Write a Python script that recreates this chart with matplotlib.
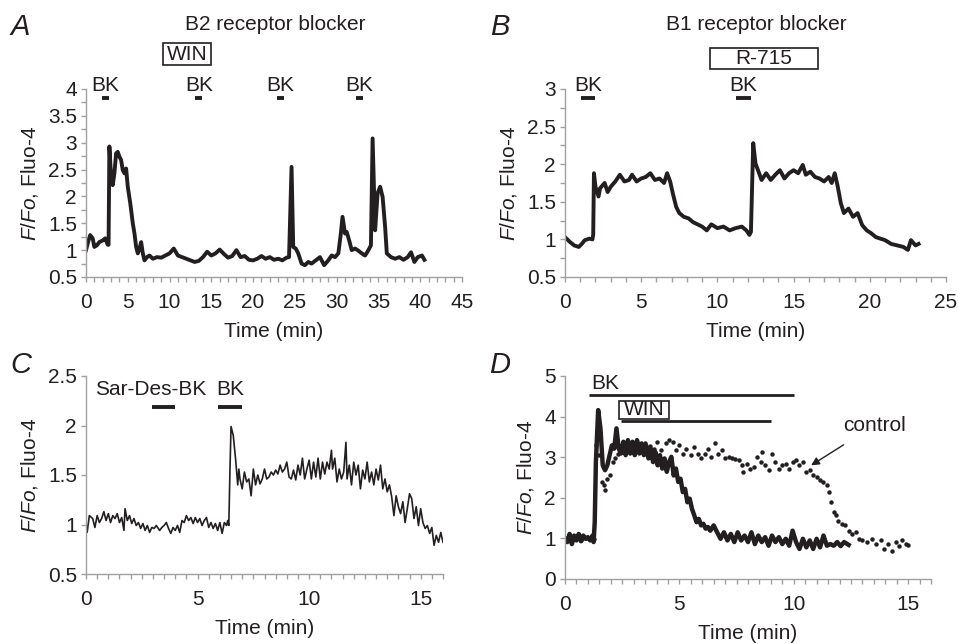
import matplotlib
matplotlib.use("Agg")
import matplotlib.pyplot as plt
from matplotlib.patches import Rectangle
from matplotlib.ticker import MultipleLocator

plt.rcParams["font.family"] = ["Liberation Sans", "DejaVu Sans"]
plt.rcParams["mathtext.fontset"] = "custom"
plt.rcParams["mathtext.it"] = "Liberation Sans:italic"
plt.rcParams["mathtext.rm"] = "Liberation Sans"

# ---- panel A: B2 receptor blocker ----
a_t = [0, 0.3, 0.5, 0.8, 1.0, 1.3, 1.6, 2.0, 2.3, 2.6, 2.7, 2.8, 3.0, 3.2, 3.4, 3.6,
       3.8, 4.0, 4.2, 4.4, 4.6, 4.8, 5.0, 5.3, 5.6, 5.8, 6.0, 6.2, 6.4, 6.6, 6.8, 7.0,
       7.3, 7.6, 8.0, 8.5, 9.0, 9.5, 10.0, 10.5, 11.0, 11.5, 12.0, 12.5, 13.0, 13.5,
       14.0, 14.5, 15.0, 15.5, 16.0, 16.5, 17.0, 17.5, 18.0, 18.5, 19.0, 19.5, 20.0,
       20.5, 21.0, 21.5, 22.0, 22.5, 23.0, 23.5, 24.0, 24.3, 24.6, 24.8, 25.1, 25.4,
       25.8, 26.2, 26.6, 27.0, 27.5, 28.0, 28.5, 29.0, 29.4, 29.8, 30.2, 30.5, 30.7,
       31.0, 31.2, 31.5, 31.8, 32.2, 32.6, 33.0, 33.4, 33.8, 34.1, 34.3, 34.6, 34.9,
       35.2, 35.5, 35.8, 36.0, 36.5, 37.0, 37.5, 38.0, 38.5, 38.9, 39.3, 39.7, 40.2, 40.5]
a_v = [1.0, 1.18, 1.28, 1.22, 1.06, 1.09, 1.15, 1.18, 1.22, 1.1, 1.1, 2.93, 2.37, 2.21,
       2.43, 2.8, 2.83, 2.74, 2.68, 2.49, 2.43, 2.52, 2.18, 1.87, 1.5, 1.31, 1.06, 0.94,
       1.03, 1.15, 0.94, 0.81, 0.87, 0.9, 0.84, 0.87, 0.86, 0.9, 0.94, 1.03, 0.9, 0.87,
       0.84, 0.81, 0.78, 0.8, 0.87, 0.97, 0.9, 0.94, 1.01, 0.93, 0.86, 0.89, 1.0, 0.87,
       0.89, 0.82, 0.81, 0.84, 0.89, 0.84, 0.87, 0.82, 0.84, 0.81, 0.86, 0.87, 2.55,
       1.06, 1.03, 0.94, 0.75, 0.72, 0.78, 0.75, 0.81, 0.87, 0.72, 0.81, 0.9, 0.87, 0.94,
       1.31, 1.62, 1.31, 1.34, 1.18, 1.0, 1.03, 0.99, 0.94, 0.9, 1.0, 1.09, 3.08, 1.37,
       2.06, 2.18, 1.99, 1.43, 0.94, 0.87, 0.84, 0.87, 0.82, 0.87, 0.96, 0.78, 0.87, 0.9,
       0.82]
a_bk = [(1.96, 2.76), (13.1, 13.9), (22.9, 23.7), (32.3, 33.1)]

# ---- panel B: B1 receptor blocker ----
b_t = [0, 0.3, 0.6, 0.9, 1.1, 1.3, 1.6, 1.8, 1.85, 1.9, 2.0, 2.2, 2.3, 2.6, 2.8, 3.0,
       3.3, 3.6, 3.9, 4.2, 4.4, 4.7, 5.0, 5.3, 5.6, 5.9, 6.2, 6.5, 6.7, 6.9, 7.1, 7.3,
       7.5, 7.8, 8.1, 8.4, 8.7, 9.0, 9.3, 9.6, 10.0, 10.4, 10.8, 11.2, 11.6, 11.9, 12.1,
       12.2, 12.35, 12.5, 12.7, 12.9, 13.2, 13.5, 13.8, 14.1, 14.4, 14.7, 15.0, 15.3,
       15.6, 15.8, 16.1, 16.4, 16.7, 17.0, 17.3, 17.5, 17.7, 17.9, 18.1, 18.3, 18.6,
       18.9, 19.2, 19.5, 19.8, 20.1, 20.4, 20.7, 21.0, 21.4, 21.8, 22.2, 22.5, 22.7,
       23.0, 23.2]
b_v = [1.03, 0.97, 0.92, 0.9, 0.94, 0.99, 1.01, 1.0, 1.06, 1.88, 1.7, 1.57, 1.68, 1.75,
       1.63, 1.7, 1.77, 1.86, 1.77, 1.79, 1.86, 1.77, 1.81, 1.83, 1.88, 1.79, 1.81, 1.75,
       1.88, 1.77, 1.59, 1.43, 1.35, 1.3, 1.28, 1.23, 1.2, 1.17, 1.12, 1.2, 1.15, 1.17,
       1.12, 1.15, 1.17, 1.12, 1.06, 1.1, 2.28, 2.01, 1.9, 1.79, 1.88, 1.79, 1.86, 1.92,
       1.81, 1.88, 1.92, 1.88, 1.99, 1.86, 1.9, 1.83, 1.81, 1.77, 1.83, 1.75, 1.88, 1.7,
       1.48, 1.35, 1.41, 1.3, 1.35, 1.19, 1.12, 1.08, 1.03, 1.01, 0.99, 0.94, 0.92, 0.9,
       0.86, 0.99, 0.92, 0.94]
b_bk = [(1.05, 1.95), (11.24, 12.18)]

# ---- panel C: Sar-Des-BK then BK ----
c_t = [0.0, 0.05, 0.15, 0.3, 0.4, 0.5, 0.6, 0.7, 0.8, 0.9, 1.0, 1.1, 1.2, 1.3, 1.4, 1.5,
       1.6, 1.7, 1.75, 1.85, 1.95, 2.05, 2.15, 2.25, 2.35, 2.45, 2.55, 2.65, 2.75, 2.85,
       2.95, 3.05, 3.15, 3.3, 3.4, 3.5, 3.6, 3.7, 3.8, 3.9, 4.0, 4.1, 4.2, 4.3, 4.4, 4.5,
       4.6, 4.7, 4.8, 4.9, 5.0, 5.1, 5.2, 5.3, 5.4, 5.5, 5.6, 5.7, 5.8, 5.9, 6.0, 6.1,
       6.2, 6.3, 6.35, 6.4, 6.45, 6.5, 6.6, 6.7, 6.75, 6.8, 6.85, 6.9, 7.0, 7.1, 7.2,
       7.3, 7.4, 7.5, 7.6, 7.7, 7.8, 7.9, 8.0, 8.1, 8.2, 8.3, 8.4, 8.5, 8.6, 8.7, 8.8,
       8.9, 9.0, 9.1, 9.2, 9.3, 9.4, 9.5, 9.6, 9.7, 9.8, 9.9, 10.0, 10.1, 10.2, 10.3,
       10.4, 10.5, 10.6, 10.7, 10.8, 10.9, 11.0, 11.05, 11.15, 11.25, 11.35, 11.45,
       11.55, 11.65, 11.7, 11.8, 11.9, 12.0, 12.1, 12.2, 12.3, 12.4, 12.5, 12.6, 12.7,
       12.8, 12.9, 13.0, 13.1, 13.2, 13.3, 13.4, 13.5, 13.6, 13.7, 13.8, 13.9, 14.0,
       14.1, 14.2, 14.3, 14.4, 14.5, 14.6, 14.7, 14.8, 14.9, 15.0, 15.1, 15.2, 15.3,
       15.4, 15.5, 15.6, 15.7, 15.8, 15.9, 16.0]
c_v = [1.02, 0.92, 1.09, 1.06, 0.97, 1.09, 1.02, 1.06, 1.13, 1.04, 1.11, 1.02, 1.09,
       1.06, 1.11, 1.02, 1.07, 0.94, 1.16, 1.04, 1.09, 1.01, 1.06, 0.99, 1.02, 0.96,
       1.01, 0.94, 0.99, 0.92, 0.97, 0.96, 0.99, 0.94, 0.97, 0.99, 1.02, 0.96, 0.91,
       0.97, 0.94, 0.99, 0.92, 1.04, 1.02, 1.09, 1.04, 1.07, 1.01, 1.07, 1.02, 1.06,
       0.99, 1.04, 1.07, 0.97, 1.02, 0.96, 1.01, 0.94, 1.02, 0.91, 1.02, 0.99, 1.04,
       0.99, 1.53, 1.99, 1.9, 1.67, 1.53, 1.4, 1.56, 1.46, 1.36, 1.53, 1.43, 1.46, 1.29,
       1.56, 1.4, 1.5, 1.41, 1.46, 1.56, 1.46, 1.48, 1.53, 1.5, 1.55, 1.51, 1.6, 1.53,
       1.56, 1.63, 1.48, 1.46, 1.55, 1.45, 1.6, 1.5, 1.67, 1.46, 1.56, 1.65, 1.46, 1.63,
       1.48, 1.67, 1.46, 1.63, 1.51, 1.63, 1.56, 1.75, 1.56, 1.67, 1.43, 1.56, 1.46,
       1.53, 1.83, 1.46, 1.6, 1.4, 1.63, 1.5, 1.6, 1.36, 1.55, 1.46, 1.63, 1.43, 1.53,
       1.4, 1.56, 1.45, 1.6, 1.36, 1.46, 1.33, 1.4, 1.28, 1.09, 1.29, 1.18, 1.11, 1.23,
       1.02, 1.16, 1.31, 1.26, 1.06, 1.18, 0.99, 1.16, 1.02, 0.96, 0.99, 0.91, 0.97,
       0.79, 0.89, 0.82, 0.92, 0.82]
c_sar = (2.96, 3.98)
c_bk = (5.92, 7.01)

# ---- panel D: BK + WIN vs control ----
d_t = [0.0, 0.1, 0.2, 0.3, 0.4, 0.5, 0.6, 0.7, 0.8, 0.9, 1.0, 1.1, 1.2, 1.25, 1.3, 1.35,
       1.45, 1.55, 1.65, 1.75, 1.85, 1.95, 2.05, 2.15, 2.25, 2.35, 2.45, 2.55, 2.65,
       2.75, 2.85, 2.95, 3.05, 3.15, 3.25, 3.35, 3.45, 3.55, 3.65, 3.75, 3.85, 3.95,
       4.05, 4.15, 4.25, 4.35, 4.45, 4.55, 4.65, 4.75, 4.85, 4.95, 5.05, 5.15, 5.25,
       5.35, 5.45, 5.55, 5.65, 5.75, 5.85, 5.95, 6.05, 6.15, 6.25, 6.35, 6.5, 6.65, 6.8,
       6.95, 7.1, 7.25, 7.4, 7.55, 7.7, 7.85, 8.0, 8.15, 8.3, 8.45, 8.6, 8.75, 8.9, 9.05,
       9.2, 9.35, 9.5, 9.65, 9.8, 9.95, 10.1, 10.25, 10.4, 10.55, 10.7, 10.85, 11.0,
       11.15, 11.3, 11.45, 11.6, 11.75, 11.9, 12.05, 12.2, 12.4]
d_v = [1.0, 0.91, 1.11, 0.86, 1.07, 0.95, 1.11, 0.93, 1.07, 0.99, 1.03, 0.95, 1.07, 0.91,
       1.4, 2.88, 4.16, 3.71, 2.8, 2.68, 2.8, 3.05, 3.29, 3.21, 3.71, 3.21, 3.09, 3.38,
       3.05, 3.42, 3.09, 3.38, 3.05, 3.42, 3.09, 3.34, 3.05, 3.29, 2.97, 3.21, 2.88,
       3.13, 2.8, 3.05, 2.72, 2.97, 2.64, 2.88, 3.01, 2.55, 2.72, 2.39, 2.47, 2.14, 2.22,
       1.89, 1.98, 1.73, 1.57, 1.4, 1.48, 1.32, 1.36, 1.24, 1.28, 1.19, 1.32, 1.15, 0.99,
       1.15, 0.95, 1.11, 0.91, 1.15, 0.95, 1.07, 0.91, 1.15, 0.86, 1.07, 0.91, 1.03, 0.82,
       1.07, 0.91, 1.03, 0.86, 0.99, 0.82, 1.19, 0.91, 0.74, 0.99, 0.78, 0.95, 0.74,
       0.99, 0.78, 1.07, 0.82, 0.86, 0.82, 0.91, 0.81, 0.91, 0.84]
ctrl_t = [0.1, 0.3, 0.5, 0.7, 0.9, 1.1, 1.25, 1.35, 1.5, 1.6, 1.7, 1.75, 1.85, 1.95, 2.1,
          2.2, 2.3, 2.5, 2.7, 2.9, 3.1, 3.3, 3.5, 3.7, 3.9, 4.0, 4.2, 4.4, 4.55, 4.7,
          4.85, 5.0, 5.15, 5.3, 5.5, 5.65, 5.8, 5.95, 6.1, 6.25, 6.4, 6.55, 6.7, 6.85,
          7.0, 7.15, 7.3, 7.45, 7.6, 7.75, 7.8, 7.95, 8.1, 8.25, 8.4, 8.55, 8.6, 8.75,
          8.9, 9.05, 9.2, 9.35, 9.5, 9.65, 9.8, 9.95, 10.1, 10.25, 10.4, 10.55, 10.7,
          10.85, 11.0, 11.15, 11.3, 11.45, 11.55, 11.65, 11.75, 11.85, 11.95, 12.1,
          12.25, 12.4, 12.55, 12.7, 12.85, 13.0, 13.2, 13.4, 13.6, 13.8, 13.95, 14.1,
          14.3, 14.45, 14.6, 14.75, 14.9, 15.0]
ctrl_v = [1.0, 0.98, 1.02, 0.97, 1.0, 1.01, 0.98, 3.3, 3.05, 2.39, 2.31, 2.18, 2.47,
          2.55, 2.88, 2.97, 3.09, 3.17, 3.21, 3.29, 3.25, 3.29, 3.34, 3.28, 3.21, 3.38,
          3.17, 3.34, 3.42, 3.38, 3.17, 3.29, 3.09, 3.21, 3.05, 3.25, 3.09, 2.97, 3.09,
          3.21, 3.01, 3.34, 3.09, 3.17, 2.97, 3.01, 2.97, 2.95, 2.92, 2.8, 2.64, 2.84,
          2.72, 2.76, 3.01, 2.88, 3.13, 2.8, 2.68, 3.09, 2.88, 2.72, 2.8, 2.84, 2.72,
          2.88, 2.92, 2.8, 2.88, 2.64, 2.68, 2.55, 2.51, 2.43, 2.39, 2.31, 2.14, 1.89,
          1.65, 1.57, 1.44, 1.36, 1.32, 1.19, 1.11, 1.15, 0.99, 0.95, 0.91, 0.99, 0.86,
          0.95, 0.74, 0.86, 0.7, 0.91, 0.82, 0.95, 0.86, 0.84]
d_bk = (1.04, 10.03)
d_win = (2.43, 9.0)

W, H = 958, 644
fig = plt.figure(figsize=(W / 100, H / 100), dpi=100)
ink = "#231f20"
grey = "#a0a0a0"
fs = 15


def make_axes(x0, x1, y0, y1):
    # pixel box -> figure fraction
    ax = fig.add_axes([x0 / W, 1 - y1 / H, (x1 - x0) / W, (y1 - y0) / H])
    for s in ["top", "right"]:
        ax.spines[s].set_visible(False)
    for s in ["left", "bottom"]:
        ax.spines[s].set_color(grey)
        ax.spines[s].set_linewidth(1.0)
    ax.tick_params(which="both", direction="out", length=3.5, width=1.0, color=grey,
                   labelsize=fs, labelcolor=ink, pad=3)
    ax.tick_params(axis="x", which="both", pad=8)
    return ax


def fmt(v):
    return ("%g" % v)


def bar(ax, x0, x1, y, lw=2.8):
    ax.plot([x0, x1], [y, y], color=ink, lw=lw, solid_capstyle="butt", clip_on=False)


def boxed(ax, x0, x1, y0, y1, label, tx, ty):
    ax.add_patch(Rectangle((x0, y0), x1 - x0, y1 - y0, fill=False, ec=ink, lw=1.2,
                           clip_on=False))
    ax.text(tx, ty, label, ha="center", va="center", fontsize=fs, color=ink, clip_on=False)


ylab = r"$\mathit{F/Fo}$, Fluo-4"

# A
axA = make_axes(86, 462, 89, 277)
axA.plot(a_t, a_v, color=ink, lw=2.8)
axA.set_xlim(0, 45)
axA.set_ylim(0.5, 4)
axA.xaxis.set_major_locator(MultipleLocator(5))
axA.xaxis.set_minor_locator(MultipleLocator(1))
axA.yaxis.set_major_locator(MultipleLocator(0.5))
axA.yaxis.set_minor_locator(MultipleLocator(0.25))
axA.set_yticklabels([fmt(v) for v in axA.get_yticks()])
axA.set_xlabel("Time (min)", fontsize=fs, color=ink, labelpad=7)
axA.set_ylabel(ylab, fontsize=fs, color=ink, labelpad=6)
for x0, x1 in a_bk:
    bar(axA, x0, x1, 3.83)
    axA.text((x0 + x1) / 2, 4.06, "BK", ha="center", va="center", fontsize=fs,
             color=ink, clip_on=False)
boxed(axA, 9.23, 14.95, 4.45, 4.86, "WIN", 12.1, 4.65)

# B
axB = make_axes(565, 946, 89, 277)
axB.plot(b_t, b_v, color=ink, lw=2.8)
axB.set_xlim(0, 25)
axB.set_ylim(0.5, 3)
axB.xaxis.set_major_locator(MultipleLocator(5))
axB.xaxis.set_minor_locator(MultipleLocator(1))
axB.yaxis.set_major_locator(MultipleLocator(0.5))
axB.yaxis.set_minor_locator(MultipleLocator(0.25))
axB.set_yticklabels([fmt(v) for v in axB.get_yticks()])
axB.set_xlabel("Time (min)", fontsize=fs, color=ink, labelpad=7)
axB.set_ylabel(ylab, fontsize=fs, color=ink, labelpad=6)
for x0, x1 in b_bk:
    bar(axB, x0, x1, 2.88)
    axB.text((x0 + x1) / 2, 3.04, "BK", ha="center", va="center", fontsize=fs,
             color=ink, clip_on=False)
boxed(axB, 9.5, 16.6, 3.26, 3.55, "R-715", 13.06, 3.4)

# C
axC = make_axes(86, 443, 376, 574)
axC.plot(c_t, c_v, color=ink, lw=1.2)
axC.set_xlim(0, 16)
axC.set_ylim(0.5, 2.5)
axC.xaxis.set_major_locator(MultipleLocator(5))
axC.xaxis.set_minor_locator(MultipleLocator(0.5))
axC.yaxis.set_major_locator(MultipleLocator(0.5))
axC.set_yticklabels([fmt(v) for v in axC.get_yticks()])
axC.set_xlabel("Time (min)", fontsize=fs, color=ink, labelpad=7)
axC.set_ylabel(ylab, fontsize=fs, color=ink, labelpad=6)
bar(axC, c_sar[0], c_sar[1], 2.19)
bar(axC, c_bk[0], c_bk[1], 2.19)
axC.text(2.89, 2.36, "Sar-Des-BK", ha="center", va="center", fontsize=fs, color=ink)
axC.text(6.46, 2.36, "BK", ha="center", va="center", fontsize=fs, color=ink)

# D
axD = make_axes(565, 931, 376, 579)
axD.plot(ctrl_t, ctrl_v, color=ink, ls="none", marker="o", ms=3.2, mew=0)
axD.plot(d_t, d_v, color=ink, lw=3.2)
axD.set_xlim(0, 16)
axD.set_ylim(0, 5)
axD.xaxis.set_major_locator(MultipleLocator(5))
axD.xaxis.set_minor_locator(MultipleLocator(0.5))
axD.yaxis.set_major_locator(MultipleLocator(1))
axD.set_xlabel("Time (min)", fontsize=fs, color=ink, labelpad=7)
axD.set_ylabel(ylab, fontsize=fs, color=ink, labelpad=6)
bar(axD, d_bk[0], d_bk[1], 4.53, lw=2.0)
bar(axD, d_win[0], d_win[1], 3.9, lw=2.0)
axD.text(1.74, 4.82, "BK", ha="center", va="center", fontsize=fs, color=ink)
boxed(axD, 2.35, 4.55, 3.95, 4.39, "WIN", 3.45, 4.17)
axD.annotate("control", xy=(10.76, 2.8), xytext=(13.54, 3.79), ha="center", va="center",
             fontsize=fs, color=ink,
             arrowprops=dict(arrowstyle="-|>", color=ink, lw=1.0, shrinkA=10, shrinkB=0,
                             mutation_scale=12))

# titles and panel letters
fig.text(275 / W, 1 - 24 / H, "B2 receptor blocker", ha="center", va="center",
         fontsize=fs, color=ink)
fig.text(756 / W, 1 - 24 / H, "B1 receptor blocker", ha="center", va="center",
         fontsize=fs, color=ink)
for lx, ly, lt in [(20, 27, "A"), (500, 27, "B"), (21, 365, "C"), (500, 365, "D")]:
    fig.text(lx / W, 1 - ly / H, lt, ha="center", va="center", fontsize=21,
             style="italic", color=ink)

fig.savefig("out.png", dpi=100)
